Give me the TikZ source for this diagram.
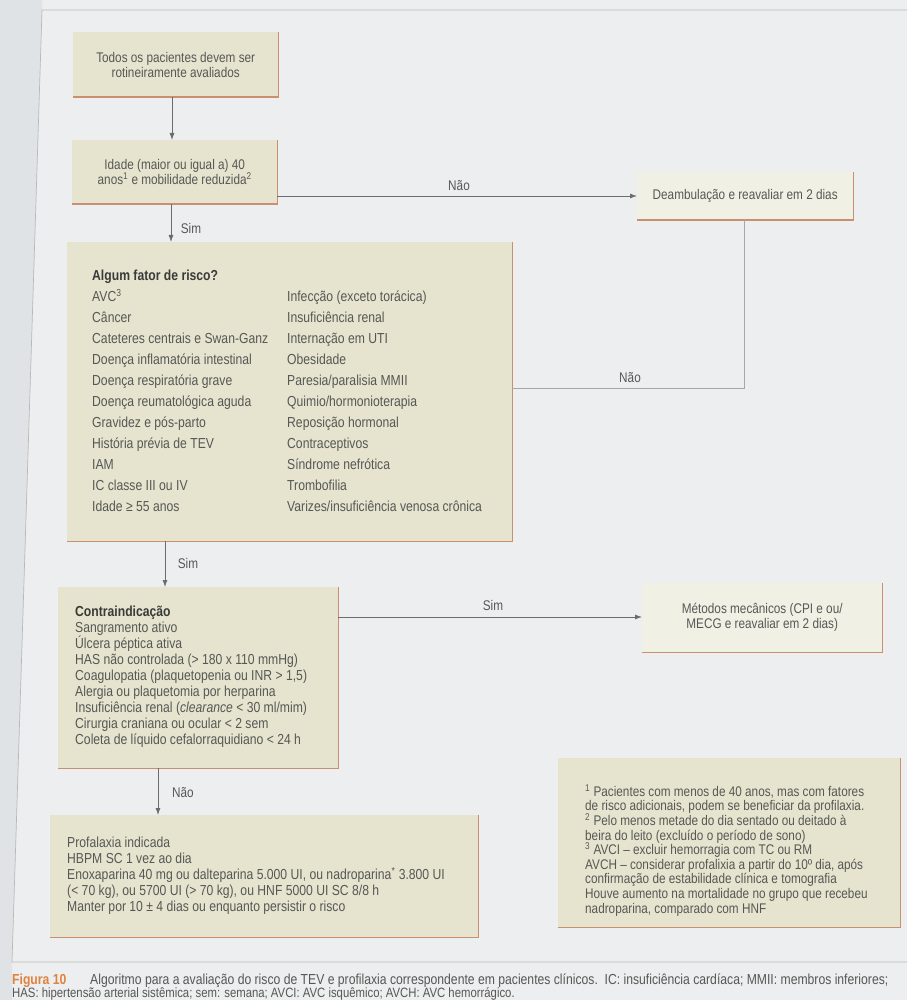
\documentclass[tikz,border=0pt]{standalone}
\usepackage{fontspec}
\setmainfont{Liberation Sans}[FakeStretch=0.84]
\usetikzlibrary{arrows.meta}

\definecolor{page}{HTML}{ECEEEF}
\definecolor{margin}{HTML}{E0E3E5}
\definecolor{boxfill}{HTML}{E6E4CF}
\definecolor{boxlight}{HTML}{F1F0E5}
\definecolor{rim}{HTML}{C98F6E}
\definecolor{ink}{HTML}{575755}
\definecolor{headink}{HTML}{3A3A38}
\definecolor{wire}{HTML}{6A6C6E}
\definecolor{capt}{HTML}{E0823F}

% footnote marker that does not disturb line spacing
\newcommand{\fnmark}[1]{\smash{\textsuperscript{#1}}}

\tikzset{
  panel/.style={fill=boxfill, draw=none, inner sep=0pt, anchor=north west,
                text=ink, align=center, font=\fontsize{14}{15}\selectfont},
  lightpanel/.style={panel, fill=boxlight},
  rimline/.style={draw=rim, line width=1.8pt},
  listtxt/.style={text=ink, inner sep=0pt, anchor=north west, align=left},
  flow/.style={draw=wire, line width=0.8pt, -{Latex[length=7pt,width=5pt]}},
  plain/.style={draw=wire!60, line width=0.8pt},
  lbl/.style={text=ink, inner sep=0pt, font=\fontsize{14}{15}\selectfont},
  capfont/.style={inner sep=0pt, anchor=west, font=\fontsize{14.5}{16}\selectfont}
}

\begin{document}
\begin{tikzpicture}[x=1pt,y=-1pt]
% sheet
\useasboundingbox (0,0) rectangle (907,1000);
\fill[page] (0,0) rectangle (907,1000);
\fill[margin] (0,0) -- (42,0) -- (42,10) -- (12,962) -- (12,1000) -- (0,1000) -- cycle;
\draw[gray!55, line width=0.7pt] (907,10) -- (42,10) -- (12,962) -- (907,962);

% decision chain
\node[panel, minimum width=205pt, minimum height=65pt] (start) at (73,32)
  {Todos os pacientes devem ser\\rotineiramente avaliados};
\node[panel, minimum width=205pt, minimum height=64pt] (age) at (72,140)
  {Idade (maior ou igual a) 40\\anos\fnmark{1} e mobilidade reduzida\fnmark{2}};
\node[lightpanel, minimum width=216pt, minimum height=48pt] (walk) at (637,172)
  {Deambulação e reavaliar em 2 dias};
\node[panel, minimum width=445pt, minimum height=299pt] (risk) at (67,242) {};
\node[panel, minimum width=280pt, minimum height=181pt] (contra) at (58,587) {};
\node[lightpanel, minimum width=240pt, minimum height=69pt] (mech) at (642,583)
  {Métodos mecânicos (CPI e ou/\\MECG e reavaliar em 2 dias)};
\node[panel, minimum width=428pt, minimum height=122pt] (proph) at (50,815) {};
\node[panel, minimum width=342pt, minimum height=169pt] (notes) at (558,758) {};

% orange rims on right and bottom edges
\foreach \b in {start,age,walk,risk,contra,mech,proph,notes}
  \draw[rimline] (\b.north east) -- (\b.south east) -- (\b.south west);

% risk factor lists
\node[listtxt, font=\fontsize{14.5}{21}\selectfont] (riskleft) at (92,270)
  {{\color{headink}\bfseries Algum fator de risco?}\\
   AVC\fnmark{3}\\
   Câncer\\
   Cateteres centrais e Swan-Ganz\\
   Doença inflamatória intestinal\\
   Doença respiratória grave\\
   Doença reumatológica aguda\\
   Gravidez e pós-parto\\
   História prévia de TEV\\
   IAM\\
   IC classe III ou IV\\
   Idade ≥ 55 anos};
\node[listtxt, font=\fontsize{14.5}{21}\selectfont] (riskright) at (287,291)
  {Infecção (exceto torácica)\\
   Insuficiência renal\\
   Internação em UTI\\
   Obesidade\\
   Paresia/paralisia MMII\\
   Quimio/hormonioterapia\\
   Reposição hormonal\\
   Contraceptivos\\
   Síndrome nefrótica\\
   Trombofilia\\
   Varizes/insuficiência venosa crônica};

% contraindications
\node[listtxt, font=\fontsize{14.5}{16}\selectfont] (contratxt) at (75,606)
  {{\color{headink}\bfseries Contraindicação}\\
   Sangramento ativo\\
   Úlcera péptica ativa\\
   HAS não controlada (> 180 x 110 mmHg)\\
   Coagulopatia (plaquetopenia ou INR > 1,5)\\
   Alergia ou plaquetomia por herparina\\
   Insuficiência renal (\textit{clearance} < 30 ml/mim)\\
   Cirurgia craniana ou ocular < 2 sem\\
   Coleta de líquido cefalorraquidiano < 24 h};

% prophylaxis
\node[listtxt, font=\fontsize{14.5}{16}\selectfont] (prophtxt) at (67,837)
  {Profalaxia indicada\\
   HBPM SC 1 vez ao dia\\
   Enoxaparina 40 mg ou dalteparina 5.000 UI, ou nadroparina\fnmark{*} 3.800 UI\\
   (< 70 kg), ou 5700 UI (> 70 kg), ou HNF 5000 UI SC 8/8 h\\
   Manter por 10 ± 4 dias ou enquanto persistir o risco};

% footnotes
\node[listtxt, font=\fontsize{14}{14.6}\selectfont] (notestxt) at (585,786)
  {\fnmark{1} Pacientes com menos de 40 anos, mas com fatores\\
   de risco adicionais, podem se beneficiar da profilaxia.\\
   \fnmark{2} Pelo menos metade do dia sentado ou deitado à\\
   beira do leito (excluído o período de sono)\\
   \fnmark{3} AVCI – excluir hemorragia com TC ou RM\\
   AVCH – considerar profalixia a partir do 10º dia, após\\
   confirmação de estabilidade clínica e tomografia\\
   Houve aumento na mortalidade no grupo que recebeu\\
   nadroparina, comparado com HNF};

% connectors
\draw[flow] (start.south -| 172,0) -- (age.north -| 172,0);
\draw[flow] (age.east |- 0,196) -- (walk.west |- 0,196);
\draw[flow] (age.south -| 171,0) -- (risk.north -| 171,0);
\draw[plain] (walk.south -| 744,0) |- (risk.east |- 0,388);
\draw[flow] (risk.south -| 165,0) -- (contra.north -| 165,0);
\draw[flow] (contra.east |- 0,617) -- (mech.west |- 0,617);
\draw[flow] (contra.south -| 158,0) -- (proph.north -| 158,0);

% branch labels
\node[lbl] (nao1) at (459,186) {Não};
\node[lbl] (sim1) at (191,228) {Sim};
\node[lbl] (nao2) at (630,378) {Não};
\node[lbl] (sim2) at (188,563) {Sim};
\node[lbl] (sim3) at (493,605) {Sim};
\node[lbl] (nao3) at (183,793) {Não};

% caption
\node[capfont, text=capt] (figlabel) at (12,981) {\bfseries Figura 10};
\node[capfont, text=ink] (figtext) at (90,981)
  {Algoritmo para a avaliação do risco de TEV e profilaxia correspondente em pacientes clínicos.\ \ IC: insuficiência cardíaca; MMII: membros inferiores;};
\node[capfont, text=ink, font=\fontsize{13.5}{15}\selectfont] (figtext2) at (12,993.5)
  {HAS: hipertensão arterial sistêmica; sem: semana; AVCI: AVC isquêmico; AVCH: AVC hemorrágico.};
\end{tikzpicture}
\end{document}
